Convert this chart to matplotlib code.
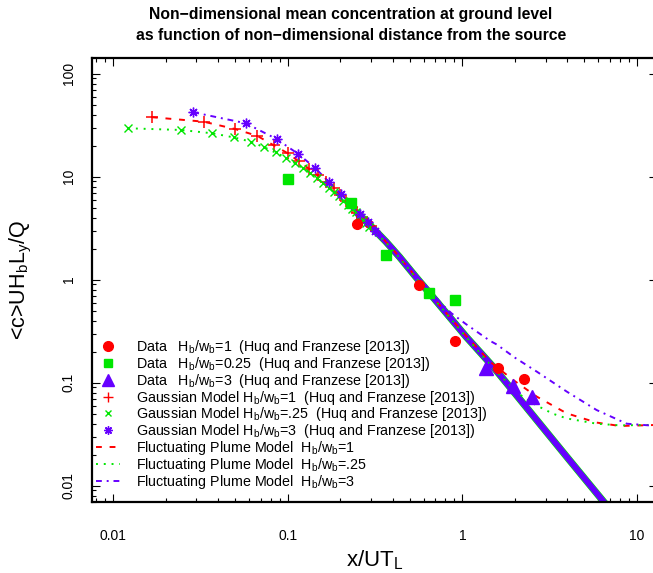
import matplotlib.pyplot as plt
from matplotlib.lines import Line2D

plt.rcParams["font.family"] = ["Liberation Sans", "DejaVu Sans"]
plt.rcParams["mathtext.fontset"] = "custom"
plt.rcParams["mathtext.rm"] = "Liberation Sans"
plt.rcParams["mathtext.it"] = "Liberation Sans:italic"
plt.rcParams["mathtext.bf"] = "Liberation Sans:bold"

RED = "#FF0000"
GREEN = "#00E600"
PURPLE = "#6600FF"

# measured data (Huq and Franzese [2013])
data_h1_x = [0.25, 0.566, 0.91, 1.61, 2.25]
data_h1_y = [3.47, 0.895, 0.256, 0.14, 0.108]
data_h025_x = [0.1006, 0.23, 0.366, 0.642, 0.906]
data_h025_y = [9.44, 5.52, 1.74, 0.748, 0.636]
data_h3_x = [1.37, 1.95, 2.49]
data_h3_y = [0.138, 0.092, 0.073]

# Gaussian model markers (near field)
gauss_h1_x = [0.0167, 0.0333, 0.05, 0.0667, 0.0833, 0.1, 0.1167, 0.1333, 0.15,
              0.1667, 0.1833, 0.2, 0.2167, 0.2333, 0.25, 0.2667, 0.2833, 0.3]
gauss_h1_y = [37.8, 34.2, 29.0, 24.9, 20.2, 16.9, 14.3, 11.9, 10.4,
              8.8, 7.7, 6.6, 5.8, 5.1, 4.45, 4.0, 3.65, 3.3]
gauss_h025_x = [0.0122, 0.0245, 0.0368, 0.049, 0.0613, 0.0735, 0.0858, 0.098,
                0.110, 0.1225, 0.135, 0.147, 0.159, 0.1715, 0.184, 0.196,
                0.208, 0.2205, 0.233, 0.245, 0.257, 0.2695, 0.282, 0.294]
gauss_h025_y = [29.5, 28.4, 26.4, 24.1, 21.9, 19.3, 17.3, 15.3,
                13.7, 12.1, 10.8, 9.65, 8.7, 7.85, 7.1, 6.45,
                5.85, 5.35, 4.9, 4.5, 4.15, 3.82, 3.52, 3.25]
gauss_h3_x = [0.0288, 0.0576, 0.0864, 0.115, 0.144, 0.173, 0.202, 0.230,
              0.259, 0.288, 0.317]
gauss_h3_y = [42.2, 33.0, 23.2, 16.6, 12.1, 8.8, 6.8, 5.4, 4.35, 3.6, 3.0]

# far field: the Gaussian markers overlap into one thick band
band_x = [0.25, 0.3, 0.367, 0.437, 0.548, 0.654, 0.813, 1.05, 1.5, 2.0, 3.0,
          4.0, 5.0, 6.0, 7.0]
band_y = [4.45, 3.3, 2.32, 1.66, 1.04, 0.73, 0.47, 0.28, 0.143, 0.079, 0.034,
          0.0187, 0.0118, 0.0081, 0.0059]

# fluctuating plume model curves
fp_h1_x = [0.0167, 0.033, 0.05, 0.067, 0.083, 0.1, 0.133, 0.167, 0.2, 0.25,
           0.3, 0.367, 0.437, 0.548, 0.654, 0.813, 1.05, 1.44, 1.96, 2.67,
           3.96, 5.87, 7.99, 13.0]
fp_h1_y = [37.8, 34.2, 29.0, 24.9, 20.2, 16.9, 11.9, 8.8, 6.6, 4.45,
           3.3, 2.32, 1.66, 1.04, 0.73, 0.47, 0.285, 0.160, 0.106, 0.0732,
           0.0504, 0.041, 0.038, 0.0389]
fp_h025_x = [0.0122, 0.0245, 0.0368, 0.049, 0.0613, 0.0735, 0.098, 0.1225,
             0.147, 0.1715, 0.196, 0.245, 0.294, 0.367, 0.437, 0.548, 0.654,
             0.813, 1.05, 1.5, 2.0, 2.24, 2.67, 3.3, 3.96, 5.87, 8.0, 13.0]
fp_h025_y = [29.5, 28.4, 26.4, 24.1, 21.9, 19.3, 15.3, 12.1,
             9.65, 7.85, 6.45, 4.5, 3.25, 2.28, 1.63, 1.02, 0.72,
             0.465, 0.278, 0.138, 0.085, 0.072, 0.060, 0.050, 0.045, 0.040,
             0.0385, 0.039]
fp_h3_x = [0.0288, 0.0576, 0.0864, 0.115, 0.144, 0.173, 0.202, 0.25, 0.3,
           0.367, 0.437, 0.548, 0.654, 0.77, 0.869, 1.05, 1.44, 1.574, 2.0,
           2.67, 3.96, 5.87, 8.73, 13.0]
fp_h3_y = [42.2, 33.0, 23.2, 16.6, 12.1, 8.8, 6.8, 4.6, 3.45,
           2.45, 1.75, 1.1, 0.79, 0.57, 0.47, 0.37, 0.255, 0.235, 0.175,
           0.128, 0.082, 0.0543, 0.040, 0.038]

x_ticks = [0.01, 0.1, 1, 10]
x_ticklabels = ["0.01", "0.1", "1", "10"]
y_ticks = [0.01, 0.1, 1, 10, 100]
y_ticklabels = ["0.01", "0.1", "1", "10", "100"]

fig = plt.figure(figsize=(6.53, 5.73), dpi=100)
W, H = 653, 573
ax = fig.add_axes([92.3 / W, 1 - 502.3 / H, (657 - 92.3) / W, (502.3 - 57.7) / H])
ax.set_xscale("log")
ax.set_yscale("log")
ax.set_xlim(0.00761, 13.02)
ax.set_ylim(0.0069, 142.9)

# fluctuating plume lines
ax.plot(fp_h1_x, fp_h1_y, color=RED, lw=1.4, ls=(0, (3, 4)), zorder=3)
ax.plot(fp_h025_x, fp_h025_y, color=GREEN, lw=1.4, ls=(0, (1, 3)), zorder=3)
ax.plot(fp_h3_x, fp_h3_y, color=PURPLE, lw=1.4, ls=(0, (3, 2.5, 1, 2.5)), zorder=3)

# dense Gaussian band
ax.plot(band_x, band_y, color=GREEN, lw=5.2, solid_capstyle="round", zorder=2)
ax.plot(band_x, band_y, color=PURPLE, lw=4.3, solid_capstyle="round", zorder=2)

ax.plot(gauss_h1_x, gauss_h1_y, ls="none", marker="+", color=RED, ms=8, mew=1.1, zorder=4)
ax.plot(gauss_h025_x, gauss_h025_y, ls="none", marker="x", color=GREEN, ms=5.5, mew=1.0, zorder=4)
ax.plot(gauss_h3_x, gauss_h3_y, ls="none", marker=(8, 2, 0), color=PURPLE, ms=7, mew=1.0, zorder=4)

ax.plot(data_h1_x, data_h1_y, ls="none", marker="o", color=RED, ms=7, zorder=5)
ax.plot(data_h025_x, data_h025_y, ls="none", marker="s", color=GREEN, ms=6.5, zorder=5)
ax.plot(data_h3_x, data_h3_y, ls="none", marker="^", color=PURPLE, ms=10, zorder=5)

ax.set_xticks(x_ticks)
ax.set_xticklabels(x_ticklabels)
ax.set_yticks(y_ticks)
ax.set_yticklabels(y_ticklabels, rotation=90, va="center")
ax.tick_params(which="both", direction="in", top=True, right=True, width=0.8,
               labelsize=10)
ax.tick_params(which="major", length=6)
ax.tick_params(which="minor", length=3)
ax.tick_params(axis="x", pad=19)
ax.tick_params(axis="y", pad=12)
for s in ax.spines.values():
    s.set_linewidth(1.6)

sub = r"$_\mathregular{b}$"
labels = [
    "Data   H" + sub + "/w" + sub + "=1  (Huq and Franzese [2013])",
    "Data   H" + sub + "/w" + sub + "=0.25  (Huq and Franzese [2013])",
    "Data   H" + sub + "/w" + sub + "=3  (Huq and Franzese [2013])",
    "Gaussian Model H" + sub + "/w" + sub + "=1  (Huq and Franzese [2013])",
    "Gaussian Model H" + sub + "/w" + sub + "=.25  (Huq and Franzese [2013])",
    "Gaussian Model H" + sub + "/w" + sub + "=3  (Huq and Franzese [2013])",
    "Fluctuating Plume Model  H" + sub + "/w" + sub + "=1",
    "Fluctuating Plume Model  H" + sub + "/w" + sub + "=.25",
    "Fluctuating Plume Model  H" + sub + "/w" + sub + "=3",
]
handles = [
    Line2D([], [], ls="none", marker="o", color=RED, ms=7),
    Line2D([], [], ls="none", marker="s", color=GREEN, ms=6),
    Line2D([], [], ls="none", marker="^", color=PURPLE, ms=9),
    Line2D([], [], ls="none", marker="+", color=RED, ms=7, mew=1),
    Line2D([], [], ls="none", marker="x", color=GREEN, ms=5, mew=1),
    Line2D([], [], ls="none", marker=(8, 2, 0), color=PURPLE, ms=6, mew=1),
    Line2D([], [], color=RED, lw=1.4, ls=(0, (3, 4))),
    Line2D([], [], color=GREEN, lw=1.4, ls=(0, (1, 3))),
    Line2D([], [], color=PURPLE, lw=1.4, ls=(0, (3, 2.5, 1, 2.5))),
]
ax.legend(handles, labels, loc="upper left", bbox_to_anchor=(96 / W, 1 - 338 / H),
          bbox_transform=fig.transFigure, frameon=False, fontsize=10.3,
          handlelength=1.7, handletextpad=1.1, labelspacing=-0.08,
          borderaxespad=0, borderpad=0)

fig.text(351 / W, 1 - 14 / H, "Non\u2212dimensional mean concentration at ground level",
         ha="center", va="center", fontsize=11.3, fontweight="bold")
fig.text(351 / W, 1 - 35 / H, "as function of non\u2212dimensional distance from the source",
         ha="center", va="center", fontsize=11.3, fontweight="bold")
fig.text(375 / W, 1 - 560 / H, r"x/UT$_\mathregular{L}$", ha="center", va="center",
         fontsize=16)
fig.text(21 / W, 1 - 280 / H,
         r"<c>UH$_\mathregular{b}$L$_\mathregular{y}$/Q", ha="center", va="center",
         rotation=90, fontsize=15.5)

fig.savefig("out.png", dpi=100)
